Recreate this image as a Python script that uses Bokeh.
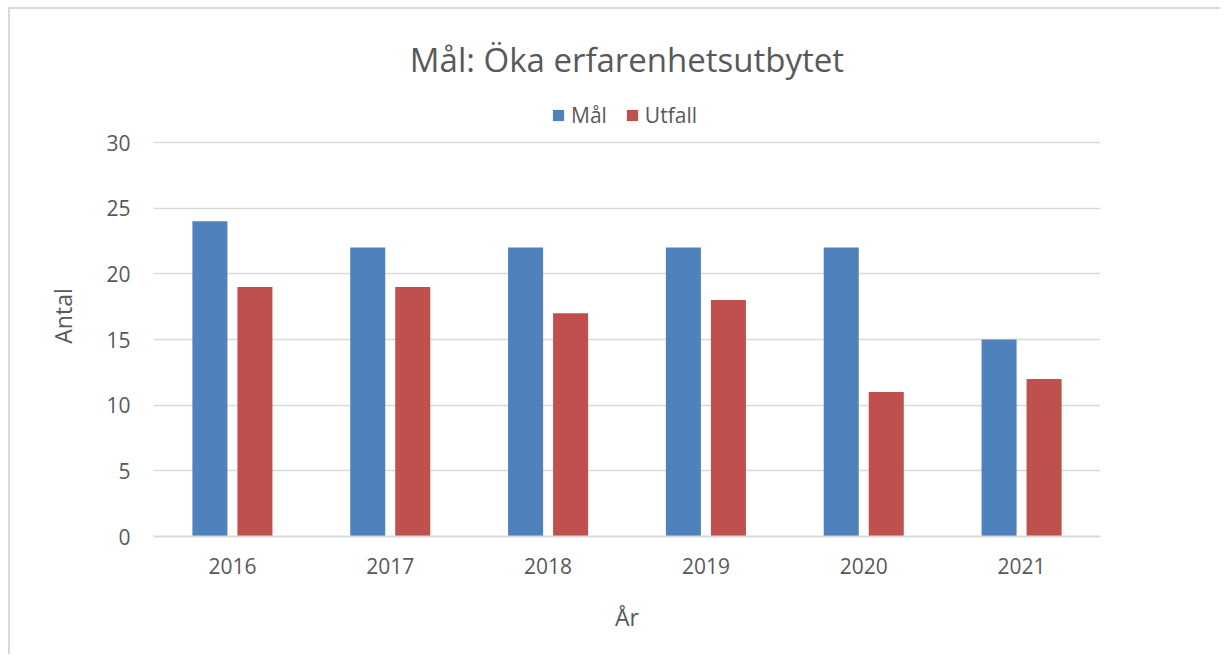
from bokeh.plotting import figure
from bokeh.models import ColumnDataSource, FactorRange, Legend, LegendItem
from bokeh.transform import dodge
from bokeh.embed import file_html
from bokeh.resources import INLINE

years = ["2016", "2017", "2018", "2019", "2020", "2021"]
mal = [24, 22, 22, 22, 22, 15]
utfall = [19, 19, 17, 18, 11, 12]
y_ticks = [0, 5, 10, 15, 20, 25, 30]

title_text = "Mål: Öka erfarenhetsutbytet"
series_names = ["Mål", "Utfall"]
colors = ["#4F81BD", "#C0504D"]
x_label = "År"
y_label = "Antal"

FONT = "Open Sans"
TXT = "#595959"
GRID = "#d9d9d9"

src = ColumnDataSource(data=dict(year=years, mal=mal, utfall=utfall))

# frame extends a little above 30 so that the legend sits inside it
p = figure(
    frame_width=947, frame_height=441,
    x_range=FactorRange(*years, range_padding=0),
    y_range=(0, 33.5787),
    output_backend="svg", toolbar_location=None,
    min_border_left=153, min_border_right=120, min_border_bottom=118,
    min_border_top=95,
    outline_line_color=None,
    border_fill_color=None,
    background_fill_color="white",
    styles={"box-shadow": "inset 8px 7px 0 0 #ffffff, inset 10px 9px 0 0 #d9d9d9"},
)

r1 = p.vbar(x=dodge("year", -0.1426, range=p.x_range), top="mal", width=0.222,
            source=src, color=colors[0], line_color=None)
r2 = p.vbar(x=dodge("year", 0.1426, range=p.x_range), top="utfall", width=0.222,
            source=src, color=colors[1], line_color=None)

# Title
p.title.text = title_text
p.title.align = "center"
p.title.text_font = FONT
p.title.text_font_size = "33px"
p.title.text_font_style = "normal"
p.title.text_color = TXT
p.title.offset = 0
p.title.standoff = 27

legend = Legend(items=[LegendItem(label=series_names[0], renderers=[r1]),
                       LegendItem(label=series_names[1], renderers=[r2])],
                orientation="horizontal", location=(398, 407),
                glyph_width=14, glyph_height=14, label_standoff=6, spacing=18,
                padding=2, margin=0, border_line_color=None,
                label_text_font=FONT, label_text_font_size="21px",
                label_text_color=TXT, background_fill_alpha=0)
p.add_layout(legend)

# Axes
p.yaxis.ticker = y_ticks
p.yaxis.axis_line_color = None
p.yaxis.major_tick_line_color = None
p.yaxis.minor_tick_line_color = None
p.yaxis.major_label_text_font = FONT
p.yaxis.major_label_text_font_size = "21px"
p.yaxis.major_label_text_color = TXT
p.yaxis.major_label_standoff = 17
p.yaxis.axis_label = y_label
p.yaxis.axis_label_text_font = FONT
p.yaxis.axis_label_text_font_size = "23px"
p.yaxis.axis_label_text_font_style = "normal"
p.yaxis.axis_label_text_color = TXT
p.yaxis.axis_label_standoff = 24

p.xaxis.axis_line_color = GRID
p.xaxis.axis_line_width = 2
p.xaxis.major_tick_line_color = None
p.xaxis.minor_tick_line_color = None
p.xaxis.major_label_text_font = FONT
p.xaxis.major_label_text_font_size = "21px"
p.xaxis.major_label_text_color = TXT
p.xaxis.major_label_standoff = 15
p.xaxis.axis_label = x_label
p.xaxis.axis_label_text_font = FONT
p.xaxis.axis_label_text_font_size = "23px"
p.xaxis.axis_label_text_font_style = "normal"
p.xaxis.axis_label_text_color = TXT
p.xaxis.axis_label_standoff = 24

p.xgrid.grid_line_color = None
p.ygrid.grid_line_color = GRID
p.ygrid.grid_line_width = 1.5

open("out.html", "w").write(file_html(p, INLINE))
